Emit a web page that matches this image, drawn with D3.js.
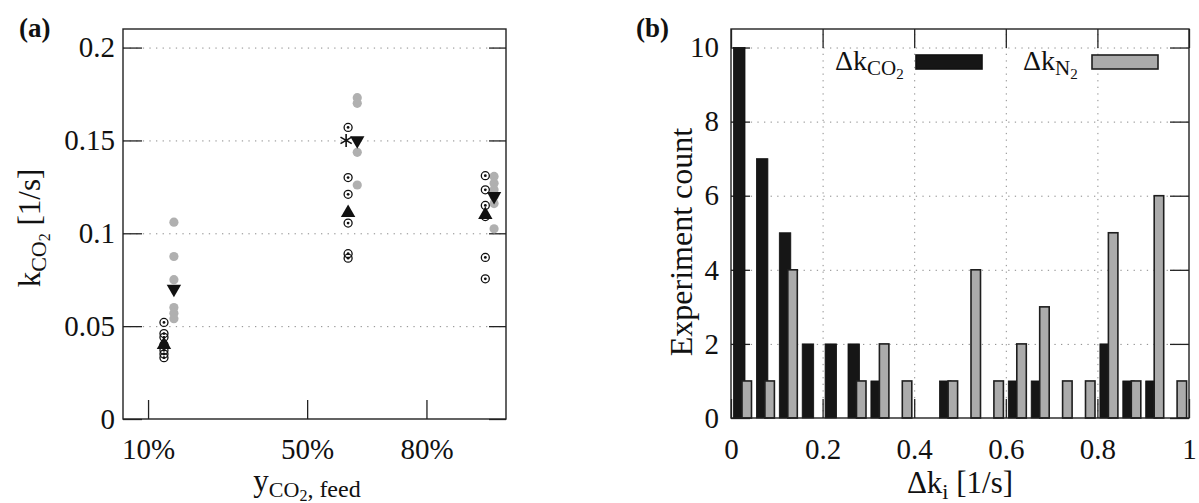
<!DOCTYPE html>
<html>
<head>
<meta charset="utf-8">
<script src="https://cdn.jsdelivr.net/npm/d3@7"></script>
<style>
  body { margin: 0; background: #fff; }
  svg text { font-family: "Liberation Serif", "DejaVu Serif", serif; fill: #111; }
  .tick text { font-size: 29px; }
</style>
</head>
<body>
<div id="chart"></div>
<script>
// ---- panel (a) data ----
const feedTicks = [0.1, 0.5, 0.8];
const feedLabels = ["10%", "50%", "80%"];
// x positions of the measured (ring) and simulated (grey) columns for each feed
const ringX = [0.140, 0.603, 0.948];
const greyX = [0.165, 0.626, 0.970];
const ringVals = [
  [0.052, 0.046, 0.044, 0.040, 0.037, 0.035, 0.033],
  [0.157, 0.130, 0.121, 0.1055, 0.089, 0.0866],
  [0.131, 0.1234, 0.115, 0.109, 0.087, 0.0755]
];
const greyVals = [
  [0.106, 0.0875, 0.075, 0.060, 0.057, 0.054],
  [0.173, 0.170, 0.1436, 0.126],
  [0.1306, 0.127, 0.1234, 0.120, 0.116, 0.1024]
];
const upTri = [0.040, 0.111, 0.110];
const downTri = [0.070, 0.150, 0.120];
const starPts = [{ x: 0.598, y: 0.150 }];
const kTicks = [0, 0.05, 0.1, 0.15, 0.2];

// ---- panel (b) data: histogram, bins of 0.05 on [0,1] ----
const binStarts = d3.range(20).map(i => i * 0.05);
const countCO2 = [10, 7, 5, 2, 2, 2, 1, 0, 0, 1, 0, 0, 1, 1, 0, 0, 2, 1, 1, 0];
const countN2  = [1, 1, 4, 0, 0, 1, 2, 1, 0, 1, 4, 1, 2, 3, 1, 1, 5, 1, 6, 1];
const countTicks = [0, 2, 4, 6, 8, 10];
const dkTicks = [0, 0.2, 0.4, 0.6, 0.8, 1];

const W = 1199, H = 503;
const svg = d3.select("#chart").append("svg").attr("width", W).attr("height", H);

const frameCol = "#222", gridCol = "#8a8a8a", greyFill = "#ababab", blackFill = "#161616";

function grid(g, axis) {
  g.call(axis);
  g.select(".domain").remove();
  g.selectAll(".tick line").attr("stroke", gridCol).attr("stroke-width", 1)
    .attr("stroke-dasharray", "1.3,5.3");
  g.selectAll(".tick text").remove();
}
function styleAxis(g) {
  g.select(".domain").remove();
  g.selectAll(".tick line").attr("stroke", frameCol).attr("stroke-width", 1.3);
}
// writes "main" + subscript parts into a text node
function mathText(sel, parts) {
  parts.forEach(p => {
    sel.append("tspan").attr("font-size", p.fs).attr("dy", p.dy || 0).text(p.t);
  });
}

// ================= panel (a) =================
const A = { l: 123, r: 506, t: 29, b: 419 };
const xa = d3.scaleLinear().domain([0.037, 1.0]).range([A.l, A.r]);
const ya = d3.scaleLinear().domain([0, 0.21]).range([A.b, A.t]);

svg.append("g").attr("transform", `translate(${A.l},0)`)
  .call(g => grid(g, d3.axisLeft(ya).tickValues(kTicks.slice(1)).tickSize(-(A.r - A.l))));

svg.append("g").attr("transform", `translate(${A.l},0)`)
  .call(d3.axisLeft(ya).tickValues(kTicks).tickSize(-19).tickPadding(8)
    .tickFormat(d => d === 0 ? "0" : d3.format("")(d)))
  .call(styleAxis);
svg.append("g").attr("transform", `translate(${A.r},0)`)
  .call(d3.axisRight(ya).tickValues(kTicks).tickSize(-17).tickFormat(""))
  .call(styleAxis);
svg.append("g").attr("transform", `translate(0,${A.b})`)
  .call(d3.axisBottom(xa).tickValues(feedTicks).tickSize(-19).tickPadding(19)
    .tickFormat((d, i) => feedLabels[i]))
  .call(styleAxis);

svg.append("rect").attr("x", A.l).attr("y", A.t).attr("width", A.r - A.l).attr("height", A.b - A.t)
  .attr("fill", "none").attr("stroke", frameCol).attr("stroke-width", 1.4);

const pa = svg.append("g");
greyVals.forEach((vals, gi) => {
  pa.selectAll(null).data(vals).join("circle")
    .attr("cx", xa(greyX[gi])).attr("cy", d => ya(d)).attr("r", 4.6).attr("fill", "#b0b0b0");
});
ringVals.forEach((vals, gi) => {
  const grp = pa.selectAll(null).data(vals).join("g")
    .attr("transform", d => `translate(${xa(ringX[gi])},${ya(d)})`);
  grp.append("circle").attr("r", 4).attr("fill", "none").attr("stroke", "#111").attr("stroke-width", 1.3);
  grp.append("circle").attr("r", 1.4).attr("fill", "#111");
});
const triSym = d3.symbol(d3.symbolTriangle, 90);
pa.selectAll(null).data(upTri).join("path")
  .attr("d", triSym).attr("fill", "#111")
  .attr("transform", (d, i) => `translate(${xa(ringX[i])},${ya(d)})`);
pa.selectAll(null).data(downTri).join("path")
  .attr("d", triSym).attr("fill", "#111")
  .attr("transform", (d, i) => `translate(${xa(greyX[i])},${ya(d)}) rotate(180)`);
pa.selectAll(null).data(starPts).join("path")
  .attr("d", () => {
    const r = 6.5;
    return [90, 30, 150].map(a => {
      const c = Math.cos(a * Math.PI / 180) * r, s = Math.sin(a * Math.PI / 180) * r;
      return `M${-c},${-s}L${c},${s}`;
    }).join("");
  })
  .attr("stroke", "#111").attr("stroke-width", 1.6).attr("fill", "none")
  .attr("transform", d => `translate(${xa(d.x)},${ya(d.y)})`);

// labels (a)
svg.append("text").attr("x", 19).attr("y", 37).attr("font-size", 27).attr("font-weight", "bold").text("(a)");
mathText(svg.append("text").attr("text-anchor", "middle")
  .attr("transform", `translate(40,228) rotate(-90)`), [
  { t: "k", fs: 31 }, { t: "CO", fs: 22, dy: 6 }, { t: "2", fs: 16, dy: 4 }, { t: " [1/s]", fs: 31, dy: -10 }
]);
mathText(svg.append("text").attr("text-anchor", "middle").attr("x", 307).attr("y", 491), [
  { t: "y", fs: 31 }, { t: "CO", fs: 22, dy: 6 }, { t: "2", fs: 16, dy: 4 }, { t: ", feed", fs: 24, dy: -4 }
]);

// ================= panel (b) =================
const B = { l: 731, r: 1189, t: 29, b: 418 };
const xb = d3.scaleLinear().domain([0, 1]).range([B.l, B.r]);
const yb = d3.scaleLinear().domain([0, 10.5]).range([B.b, B.t]);

svg.append("g").attr("transform", `translate(${B.l},0)`)
  .call(g => grid(g, d3.axisLeft(yb).tickValues(countTicks.slice(1)).tickSize(-(B.r - B.l))));
svg.append("g").attr("transform", `translate(0,${B.b})`)
  .call(g => grid(g, d3.axisBottom(xb).tickValues(dkTicks.slice(1, -1)).tickSize(-(B.b - B.t))));

svg.append("g").attr("transform", `translate(${B.l},0)`)
  .call(d3.axisLeft(yb).tickValues(countTicks).tickSize(-19).tickPadding(12))
  .call(styleAxis);
svg.append("g").attr("transform", `translate(${B.r},0)`)
  .call(d3.axisRight(yb).tickValues(countTicks).tickSize(-19).tickFormat(""))
  .call(styleAxis);
svg.append("g").attr("transform", `translate(0,${B.b})`)
  .call(d3.axisBottom(xb).tickValues(dkTicks).tickSize(-19).tickPadding(20)
    .tickFormat(d => d3.format("")(d)))
  .call(styleAxis);
svg.append("g").attr("transform", `translate(0,${B.t})`)
  .call(d3.axisTop(xb).tickValues(dkTicks).tickSize(-19).tickFormat(""))
  .call(styleAxis);

const bins = binStarts.map((x0, i) => ({ x0, co2: countCO2[i], n2: countN2[i] }));
const pb = svg.append("g");
pb.selectAll(null).data(bins.filter(d => d.co2 > 0)).join("rect")
  .attr("x", d => xb(d.x0) + 2.5).attr("width", 11.5)
  .attr("y", d => yb(d.co2)).attr("height", d => yb(0) - yb(d.co2))
  .attr("fill", blackFill).attr("stroke", "#111").attr("stroke-width", 0.8);
pb.selectAll(null).data(bins.filter(d => d.n2 > 0)).join("rect")
  .attr("x", d => xb(d.x0) + 11).attr("width", 9.5)
  .attr("y", d => yb(d.n2)).attr("height", d => yb(0) - yb(d.n2))
  .attr("fill", greyFill).attr("stroke", "#1e1e1e").attr("stroke-width", 1.6);

svg.append("rect").attr("x", B.l).attr("y", B.t).attr("width", B.r - B.l).attr("height", B.b - B.t)
  .attr("fill", "none").attr("stroke", frameCol).attr("stroke-width", 1.4);

// legend
const legend = [
  { name: "CO", sub: "2", fill: blackFill, stroke: "#111", tx: 835, sx: 916 },
  { name: "N", sub: "2", fill: greyFill, stroke: "#1e1e1e", tx: 1023, sx: 1092 }
];
legend.forEach(d => {
  mathText(svg.append("text").attr("x", d.tx).attr("y", 70), [
    { t: "Δk", fs: 28 }, { t: d.name, fs: 21, dy: 5 }, { t: d.sub, fs: 15, dy: 4 }
  ]);
  svg.append("rect").attr("x", d.sx).attr("y", 55).attr("width", 66).attr("height", 14)
    .attr("fill", d.fill).attr("stroke", d.stroke).attr("stroke-width", 1.6);
});

svg.append("text").attr("x", 636).attr("y", 37).attr("font-size", 27).attr("font-weight", "bold").text("(b)");
svg.append("text").attr("text-anchor", "middle").attr("font-size", 32)
  .attr("transform", `translate(692,242) rotate(-90)`).text("Experiment count");
mathText(svg.append("text").attr("text-anchor", "middle").attr("x", 960).attr("y", 493), [
  { t: "Δk", fs: 31 }, { t: "i", fs: 22, dy: 6 }, { t: " [1/s]", fs: 31, dy: -6 }
]);
</script>
</body>
</html>
